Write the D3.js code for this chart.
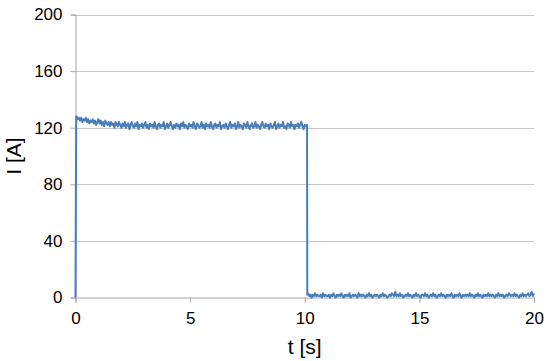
<!DOCTYPE html>
<html>
<head>
<meta charset="utf-8">
<script src="https://cdn.jsdelivr.net/npm/d3@7"></script>
<style>
    body { margin: 0; background: #fff; }
    text { font-family: "Liberation Sans", Arial, sans-serif; fill: #000; }
</style>
</head>
<body>
<svg id="svg"></svg>
<script>
// tick labels
const xTicks = [0, 5, 10, 15, 20];
const yTicks = [0, 40, 80, 120, 160, 200];

// edges of the pulse (t in s, I in A)
const riseT = [0, 0.03];
const riseI = [0, 128];
const dropT = [10.11];
const dropI = [2];

// current while on, sampled every 0.05 s from t = 0.05 to 10.1
const highI = [
    128, 126, 127, 125, 127, 124, 126, 125, 127, 124,
    126, 123, 125, 124, 126, 123, 125, 122, 124, 126,
    123, 125, 122, 124, 121, 125, 123, 122, 124, 121,
    124, 122, 123, 120, 124, 122, 121, 124, 122, 120,
    123, 121, 124, 120, 122, 123, 119, 122, 124, 121,
    120, 123, 121, 124, 119, 122, 121, 123, 120, 122,
    124, 120, 122, 119, 123, 121, 122, 120, 124, 121,
    119, 122, 123, 120, 122, 121, 124, 119, 121, 123,
    120, 122, 124, 121, 119, 122, 120, 123, 121, 122,
    119, 123, 121, 124, 120, 122, 121, 119, 123, 121,
    122, 120, 124, 121, 119, 123, 122, 120, 121, 124,
    120, 122, 119, 123, 121, 122, 120, 124, 121, 119,
    122, 123, 120, 122, 121, 124, 119, 121, 122, 120,
    123, 121, 119, 122, 124, 120, 122, 121, 123, 119,
    121, 124, 120, 122, 121, 119, 123, 122, 120, 124,
    121, 119, 122, 123, 120, 121, 124, 120, 122, 121,
    119, 122, 124, 121, 120, 123, 121, 122, 119, 123,
    121, 120, 122, 124, 119, 121, 123, 120, 122, 121,
    124, 120, 121, 119, 123, 122, 120, 124, 121, 122,
    119, 122, 121, 123, 120, 122, 124, 121, 119, 122,
    121, 122,
];

// current after switch-off, sampled every 0.05 s from t = 10.15 to 20
const lowI = [
    3, 1, 2, 0, 2, 1, 3, 1, 2, 1,
    1, 2, 0, 3, 1, 2, 1, 1, 2, 0,
    2, 1, 3, 1, 0, 2, 1, 2, 1, 3,
    1, 0, 2, 1, 2, 1, 3, 0, 1, 2,
    1, 2, 1, 0, 3, 1, 2, 1, 2, 1,
    0, 2, 1, 3, 1, 2, 0, 1, 2, 1,
    2, 1, 0, 2, 1, 3, 1, 2, 1, 0,
    1, 2, 1, 3, 2, 1, 4, 1, 2, 1,
    3, 1, 2, 0, 1, 2, 1, 3, 1, 2,
    1, 0, 2, 1, 3, 1, 2, 1, 0, 2,
    2, 1, 3, 1, 2, 0, 1, 2, 1, 3,
    1, 2, 0, 1, 2, 1, 3, 1, 2, 1,
    0, 2, 1, 2, 1, 3, 1, 0, 2, 1,
    2, 1, 3, 1, 0, 2, 1, 2, 1, 2,
    1, 3, 1, 2, 1, 0, 2, 1, 3, 1,
    2, 1, 0, 2, 1, 2, 1, 3, 1, 2,
    1, 2, 1, 0, 2, 1, 3, 1, 2, 1,
    2, 0, 1, 2, 1, 3, 2, 1, 2, 1,
    3, 1, 2, 1, 0, 2, 1, 3, 1, 2,
    1, 2, 3, 1, 2, 4, 1, 3,
];

const step = 0.05;
const points = [];
riseT.forEach((t, i) => points.push([t, riseI[i]]));
highI.forEach((v, i) => points.push([0.05 + i * step, v]));
dropT.forEach((t, i) => points.push([t, dropI[i]]));
lowI.forEach((v, i) => points.push([10.15 + i * step, v]));

const width = 550, height = 361;
const margin = { left: 75.5, right: 16, top: 14.5, bottom: 63.5 };

const svg = d3.select("#svg").attr("width", width).attr("height", height);

const x = d3.scaleLinear().domain([0, 20]).range([margin.left, width - margin.right]);
const y = d3.scaleLinear().domain([0, 200]).range([height - margin.bottom, margin.top]);

// horizontal gridlines
svg.append("g")
    .selectAll("line")
    .data(yTicks.filter(d => d > 0))
    .join("line")
    .attr("x1", x(0))
    .attr("x2", x(20))
    .attr("y1", d => Math.round(y(d)) + 0.5)
    .attr("y2", d => Math.round(y(d)) + 0.5)
    .attr("stroke", "#c6c6c6")
    .attr("stroke-width", 1);

const styleAxis = function(g) {
    g.select(".domain").attr("stroke", "#a6a6a6");
    g.selectAll(".tick line").attr("stroke", "#a6a6a6");
    g.selectAll(".tick text")
        .attr("font-size", 17)
        .attr("font-family", "Liberation Sans, Arial, sans-serif")
        .attr("fill", "#000");
};

// y axis
svg.append("g")
    .attr("transform", `translate(${x(0)},0)`)
    .call(d3.axisLeft(y).tickValues(yTicks).tickSize(5).tickPadding(8))
    .call(styleAxis);

// x axis
svg.append("g")
    .attr("transform", `translate(0,${y(0)})`)
    .call(d3.axisBottom(x).tickValues(xTicks).tickSize(5).tickPadding(9))
    .call(styleAxis);

// axis titles
svg.append("text")
    .attr("x", (x(0) + x(20)) / 2)
    .attr("y", 354)
    .attr("text-anchor", "middle")
    .attr("font-size", 21)
    .text("t [s]");

svg.append("text")
    .attr("transform", `translate(21,${(y(0) + y(200)) / 2}) rotate(-90)`)
    .attr("text-anchor", "middle")
    .attr("font-size", 21)
    .text("I [A]");

// signal
svg.append("path")
    .datum(points)
    .attr("fill", "none")
    .attr("stroke", "#4a7ebb")
    .attr("stroke-width", 2)
    .attr("stroke-linejoin", "round")
    .attr("d", d3.line().x(d => x(d[0])).y(d => y(d[1])));
</script>
</body>
</html>
